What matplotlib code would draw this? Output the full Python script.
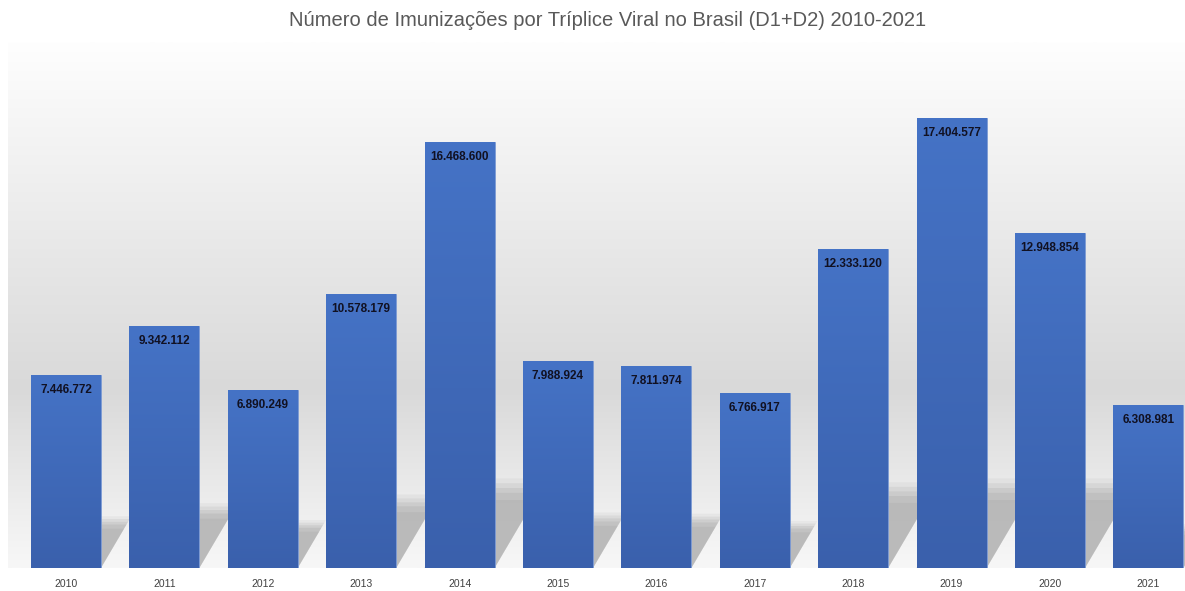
import matplotlib
matplotlib.use("Agg")
import matplotlib.pyplot as plt
from matplotlib.colors import LinearSegmentedColormap
from matplotlib.patches import Polygon
import numpy as np

# dados
anos = ["2010", "2011", "2012", "2013", "2014", "2015",
        "2016", "2017", "2018", "2019", "2020", "2021"]
doses = [7446772, 9342112, 6890249, 10578179, 16468600, 7988924,
         7811974, 6766917, 12333120, 17404577, 12948854, 6308981]

plt.rcParams['font.family'] = ['Liberation Sans', 'DejaVu Sans']


def fmt_br(v: int) -> str:
    return f"{v:,}".replace(",", ".")


fig = plt.figure(figsize=(11.85, 5.91), dpi=100)
ax = fig.add_axes([8 / 1185, 23 / 591, 1177 / 1185, 526 / 591])

x = np.arange(len(anos))
xlim = (-0.589, 11.372)
ylim = (0, 20.34e6)
ax.set_xlim(xlim)
ax.set_ylim(ylim)

# fundo em degrade
bg_cmap = LinearSegmentedColormap.from_list(
    "bg", [(0.0, "#f7f7f7"), (0.1, "#efefef"), (0.34, "#d9d9d9"), (1.0, "#fefefe")])
grad = np.linspace(0, 1, 256).reshape(-1, 1)
ax.imshow(grad, cmap=bg_cmap, aspect="auto", origin="lower",
          extent=[xlim[0], xlim[1], ylim[0], ylim[1]], zorder=0)

largura = 0.71
px_x = 1177 / (xlim[1] - xlim[0])      # pixels por unidade x
px_y = 526 / (ylim[1] - ylim[0])       # pixels por dose

# sombras em perspectiva (diagonal para cima e a direita), suavizadas
for xi, v in zip(x, doses):
    alt_px = min(0.24 * v * px_y, 80)
    alt = alt_px / px_y
    dx = alt_px / 1.7 / px_x
    l, r = xi - largura / 2, xi + largura / 2
    for k, a in [(1.12, 0.12), (1.06, 0.18), (1.0, 0.25), (0.94, 0.3), (0.85, 0.3)]:
        sh = Polygon([(l, 0), (r, 0), (r + dx * k, alt * k), (l + dx * k, alt * k)],
                     closed=True, facecolor="#a8a8a8", alpha=a,
                     edgecolor="none", zorder=1)
        ax.add_patch(sh)

# barras com degrade
bar_cmap = LinearSegmentedColormap.from_list("bar", ["#3a60ac", "#4573c6"])
bars = ax.bar(x, doses, width=largura, color="#4270c0", zorder=2,
              edgecolor="#7d9bd4", linewidth=0.6)
for b in bars:
    bx, by = b.get_x(), b.get_y()
    im = ax.imshow(grad, cmap=bar_cmap, aspect="auto", origin="lower",
                   extent=[bx, bx + b.get_width(), by, by + b.get_height()],
                   zorder=3)
    im.set_clip_path(b)

ax.set_xlim(xlim)
ax.set_ylim(ylim)

for xi, v in zip(x, doses):
    ax.annotate(fmt_br(v), (xi, v), xytext=(0, -15), textcoords="offset pixels",
                ha="center", va="center", fontsize=8.5, fontweight="bold",
                color="#111122", zorder=4)

ax.set_xticks(x)
ax.set_xticklabels(anos, fontsize=7.5, color="#404040")
ax.tick_params(axis="x", length=0, pad=8)
ax.set_yticks([])
for s in ax.spines.values():
    s.set_visible(False)

fig.text(608 / 1185, 1 - 20 / 591,
         "Número de Imunizações por Tríplice Viral no Brasil (D1+D2) 2010-2021",
         ha="center", va="center", fontsize=14.5, color="#595959")

fig.savefig("out.png", dpi=100)
